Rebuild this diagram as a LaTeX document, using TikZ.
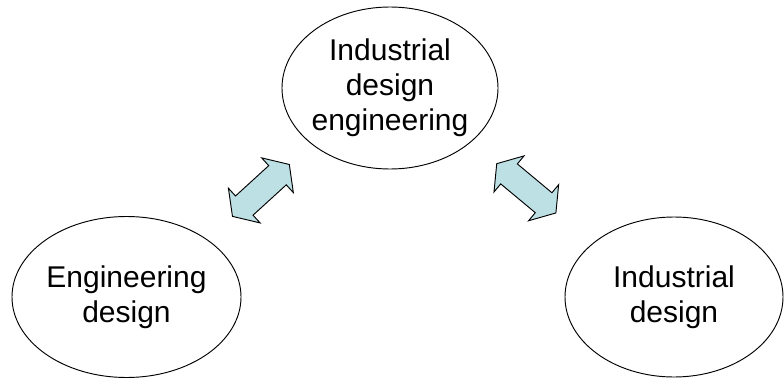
\documentclass[tikz,border=0pt]{standalone}
\usepackage{fontspec}
\setmainfont{Liberation Sans}
\usetikzlibrary{shapes.geometric,calc}
\definecolor{arrowblue}{RGB}{189,224,229}

\begin{document}
\begin{tikzpicture}[x=0.03cm,y=0.03cm]
\tikzstyle {oval}=[ellipse, draw=black, line width=0.8pt, inner sep=-4pt, align=center, font=\fontsize{25.6}{29.9}\selectfont]
\tikzstyle {dbl}=[draw=black, fill=arrowblue, line width=0.8pt, line join=miter]
\useasboundingbox (0,0) rectangle (784,380);
\node (ide) [oval, minimum width=6.48cm, minimum height=4.86cm] at (390,292) {Industrial\\design\\engineering};
\node (eng) [oval, minimum width=6.87cm, minimum height=4.83cm] at (126.5,83) {Engineering\\design};
\node (ind) [oval, minimum width=6.54cm, minimum height=4.8cm] at (674,83) {Industrial\\design};
\begin{scope}[shift={($(eng)!0.51!(ide)$)}, rotate=42.4]
\draw[dbl] (-38.5,0) -- (-22.5,23.5) -- (-22.5,13) -- (22.5,13) -- (22.5,23.5) -- (38.5,0) -- (22.5,-23.5) -- (22.5,-13) -- (-22.5,-13) -- (-22.5,-23.5) -- cycle;
\end{scope}
\begin{scope}[shift={($(ind)!0.52!(ide)$)}, rotate=-39.8]
\draw[dbl] (-38.5,0) -- (-22.5,23.5) -- (-22.5,13) -- (22.5,13) -- (22.5,23.5) -- (38.5,0) -- (22.5,-23.5) -- (22.5,-13) -- (-22.5,-13) -- (-22.5,-23.5) -- cycle;
\end{scope}
\end{tikzpicture}
\end{document}
